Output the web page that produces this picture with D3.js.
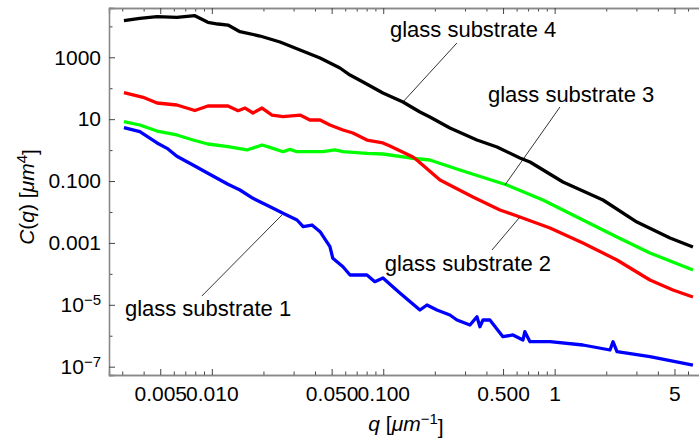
<!DOCTYPE html>
<html>
<head>
<meta charset="utf-8">
<script src="https://cdn.jsdelivr.net/npm/d3@7"></script>
<style>
body { margin:0; background:#fff; }
text { font-family: "Liberation Sans", Arial, sans-serif; }
</style>
</head>
<body>
<div id="chart"></div>
<script>
// data, [q, C(q)]
var substrate4 = [[0.00307,15200],[0.0038,18200],[0.00479,20500],[0.00625,19600],[0.00796,22100],[0.00948,13500],
  [0.01086,11900],[0.01242,11000],[0.01459,6710],[0.0191,4870],[0.025,3120],[0.0327,1720],[0.0428,948],[0.0559,450],
  [0.064,267],[0.0762,159],[0.0996,70.1],[0.1303,35.9],[0.1637,17.0],[0.1871,11.7],[0.2449,5.18],[0.352,2.12],
  [0.461,1.26],[0.627,0.556],[0.718,0.412],[1.118,0.0931],[1.914,0.0244],[3.02,0.00474],[4.71,0.00144],[6.41,0.000738]];
var substrate3 = [[0.00307,8.28],[0.0038,6.48],[0.00479,4.14],[0.00625,3.08],[0.00776,2.12],[0.00948,1.575],
  [0.01242,1.29],[0.01603,1.01],[0.01963,1.46],[0.02185,1.23],[0.02601,0.888],[0.02858,1.06],[0.0314,0.888],
  [0.04446,0.888],[0.05224,1.01],[0.05821,0.888],[0.08035,0.788],[0.0996,0.748],[0.1432,0.556],[0.1871,0.479],
  [0.28,0.2275],[0.527,0.0745],[0.8547,0.0244],[1.462,0.00551],[2.31,0.00155],[3.597,0.000472],[6.41,0.000133]];
var substrate2 = [[0.00307,71.6],[0.00397,50.9],[0.00479,33.3],[0.00625,28.7],[0.00796,19.05],[0.00948,26.6],
  [0.01242,26.6],[0.01422,18.8],[0.01563,22.9],[0.01738,15.8],[0.01963,22.9],[0.02244,13.6],[0.02601,12.0],
  [0.0327,13.6],[0.03733,9.39],[0.0428,9.39],[0.04886,6.48],[0.05821,4.46],[0.06653,3.57],[0.08035,2.12],
  [0.0996,1.70],[0.1094,1.36],[0.149,0.598],[0.157,0.479],[0.2143,0.108],[0.3337,0.0305],[0.4796,0.0116],
  [0.627,0.00689],[0.9391,0.00303],[1.462,0.000994],[2.31,0.000281],[3.597,6.33e-5],[4.897,3.01e-5],[6.41,1.79e-5]];
var substrate1 = [[0.00307,5.30],[0.0038,3.93],[0.00479,1.70],[0.00548,1.14],[0.00625,0.630],[0.00776,0.330],
  [0.00948,0.178],[0.01242,0.0785],[0.01459,0.0513],[0.01738,0.0277],[0.02277,0.01315],[0.02601,0.00906],
  [0.0314,0.00551],[0.0341,0.00334],[0.0384,0.00379],[0.0428,0.00231],[0.04886,0.000755],[0.0508,0.000318],
  [0.05821,0.00017],[0.064,9.18e-5],[0.08035,9.18e-5],[0.0893,5.58e-5],[0.0996,7.35e-5],[0.125,2.41e-5],
  [0.1637,6.79e-6],[0.1799,9.86e-6],[0.2056,6.79e-6],[0.2449,4.68e-6],[0.2692,3.23e-6],[0.3206,2.22e-6],
  [0.352,4.12e-6],[0.3664,1.96e-6],[0.3818,3.23e-6],[0.419,3.23e-6],[0.4991,9.31e-7],[0.5712,1.06e-6],
  [0.6531,7.28e-7],[0.6703,1.35e-6],[0.718,6.42e-7],[0.9391,6.42e-7],[1.462,5.02e-7],[2.104,3.46e-7],
  [2.19,6.42e-7],[2.31,3.05e-7],[3.597,2.10e-7],[6.41,1.13e-7]];

var series = [
  {data: substrate1, color: "#0000ff"},
  {data: substrate3, color: "#00ff00"},
  {data: substrate2, color: "#ff0000"},
  {data: substrate4, color: "#000000"}
];

var xMajor = [0.005, 0.01, 0.05, 0.1, 0.5, 1, 5];
var xMajorLabels = ["0.005", "0.010", "0.050", "0.100", "0.500", "1", "5"];
var yMajor = [1e-7, 1e-5, 1e-3, 0.1, 10, 1000];
var yMajorLabels = [["10","\u22127"], ["10","\u22125"], ["0.001"], ["0.100"], ["10"], ["1000"]];
var yMinor = [1e-6, 1e-4, 1e-2, 1, 100, 1e4];

// label text, label anchor [q,C], leader from [q,C] to [q,C]
var notes = [
  {text:"glass substrate 4", at:[0.1094,4520], from:[0.269,2895], to:[0.1303,35.9]},
  {text:"glass substrate 3", at:[0.408,35.9], from:[1.074,24.7], to:[0.513,0.0745]},
  {text:"glass substrate 2", at:[0.102,1.24e-4], from:[0.431,5.9e-4], to:[0.627,0.00689]},
  {text:"glass substrate 1", at:[0.00311,4.31e-6], from:[0.00875,1.93e-5], to:[0.02564,0.00798]}
];

var width = 699, height = 448;
var plotL = 109, plotT = 8, plotB = 375, plotR = 700;

var svg = d3.select("#chart").append("svg")
    .attr("width", width)
    .attr("height", height);

var x = d3.scaleLog()
    .domain([Math.pow(10, -2.6), Math.pow(10, 0.848)])
    .range([plotL, plotR]);

var y = d3.scaleLog()
    .domain([Math.pow(10, -7.269), Math.pow(10, 4.593)])
    .range([plotB, plotT]);

var xMinor = x.ticks().filter(function(d) { return xMajor.indexOf(+d.toPrecision(6)) < 0; });

function styleAxis(g) {
  g.select(".domain").attr("stroke", "#888").attr("stroke-width", 1.3);
  g.selectAll(".tick line").attr("stroke", "#444");
  g.selectAll(".tick text").attr("fill", "#000").style("font-size", "21px")
    .style("font-family", "'Liberation Sans', Arial, sans-serif");
}

// bottom
svg.append("g")
    .attr("transform", "translate(0," + plotB + ")")
    .call(d3.axisBottom(x).tickValues(xMinor).tickSize(-3.5).tickFormat(""))
    .call(styleAxis);
svg.append("g")
    .attr("transform", "translate(0," + plotB + ")")
    .call(d3.axisBottom(x).tickValues(xMajor).tickSize(-6).tickPadding(11)
      .tickFormat(function(d, i) { return xMajorLabels[i]; }))
    .call(styleAxis);

// top
svg.append("g")
    .attr("transform", "translate(0," + plotT + ")")
    .call(d3.axisTop(x).tickValues(xMinor).tickSize(-3.5).tickFormat(""))
    .call(styleAxis);
svg.append("g")
    .attr("transform", "translate(0," + plotT + ")")
    .call(d3.axisTop(x).tickValues(xMajor).tickSize(-6).tickFormat(""))
    .call(styleAxis);

// left
svg.append("g")
    .attr("transform", "translate(" + plotL + ",0)")
    .call(d3.axisLeft(y).tickValues(yMinor).tickSize(-3.5).tickFormat(""))
    .call(styleAxis);
var yAxis = svg.append("g")
    .attr("transform", "translate(" + plotL + ",0)")
    .call(d3.axisLeft(y).tickValues(yMajor).tickSize(-6).tickPadding(8).tickFormat(""))
    .call(styleAxis);

yAxis.selectAll(".tick text").each(function(d, i) {
  var t = d3.select(this), lab = yMajorLabels[i];
  t.text(lab[0]);
  if (lab.length > 1) {
    t.append("tspan").attr("dy", "-0.45em").style("font-size", "15px").text(lab[1]);
  }
});

// curves
var line = d3.line()
    .x(function(d) { return x(d[0]); })
    .y(function(d) { return y(d[1]); });

svg.append("g").selectAll("path")
  .data(series)
  .enter().append("path")
    .attr("fill", "none")
    .attr("stroke", function(d) { return d.color; })
    .attr("stroke-width", 3.3)
    .attr("stroke-linejoin", "round")
    .attr("d", function(d) { return line(d.data); });

// annotations
var ann = svg.append("g");
ann.selectAll("line")
  .data(notes)
  .enter().append("line")
    .attr("x1", function(d) { return x(d.from[0]); })
    .attr("y1", function(d) { return y(d.from[1]); })
    .attr("x2", function(d) { return x(d.to[0]); })
    .attr("y2", function(d) { return y(d.to[1]); })
    .attr("stroke", "#000")
    .attr("stroke-width", 0.8);
ann.selectAll("text")
  .data(notes)
  .enter().append("text")
    .attr("x", function(d) { return x(d.at[0]); })
    .attr("y", function(d) { return y(d.at[1]); })
    .style("font-size", "22px")
    .text(function(d) { return d.text; });

// axis titles
var xt = svg.append("text")
    .attr("x", 406)
    .attr("y", 431)
    .attr("text-anchor", "middle")
    .style("font-size", "21px");
xt.append("tspan").style("font-style", "italic").text("q");
xt.append("tspan").text(" [");
xt.append("tspan").style("font-style", "italic").text("\u03bcm");
xt.append("tspan").attr("dy", "-0.45em").style("font-size", "15px").text("\u22121");
xt.append("tspan").attr("dy", "0.45em").text("]");

var yt = svg.append("text")
    .attr("transform", "translate(34,197) rotate(-90)")
    .attr("text-anchor", "middle")
    .style("font-size", "21px");
yt.append("tspan").style("font-style", "italic").text("C");
yt.append("tspan").text("(");
yt.append("tspan").style("font-style", "italic").text("q");
yt.append("tspan").text(") [");
yt.append("tspan").style("font-style", "italic").text("\u03bcm");
yt.append("tspan").attr("dy", "-0.45em").style("font-size", "15px").text("4");
yt.append("tspan").attr("dy", "0.45em").text("]");
</script>
</body>
</html>
